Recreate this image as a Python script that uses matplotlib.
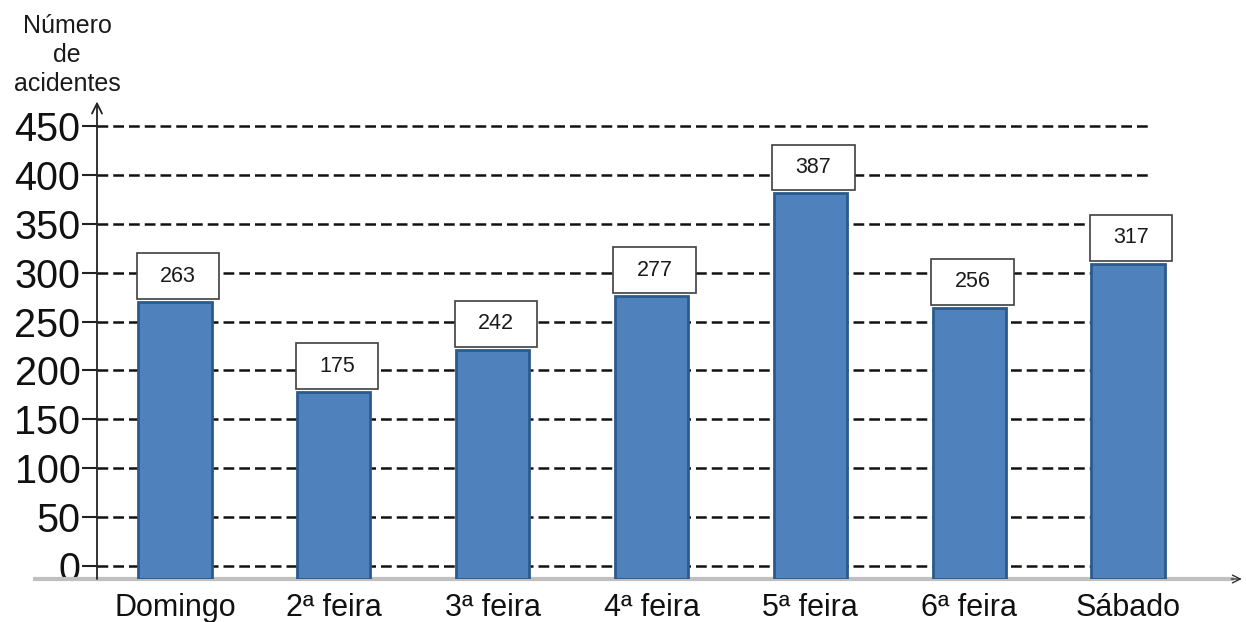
import matplotlib
matplotlib.use("Agg")
import matplotlib.pyplot as plt
from matplotlib.patches import Rectangle

# ---- data ----
categories = ["Domingo", "2ª feira", "3ª feira", "4ª feira", "5ª feira", "6ª feira", "Sábado"]
bar_heights = [270, 178, 221, 276, 381, 264, 309]   # drawn bar heights (as read)
label_values = [263, 175, 242, 277, 387, 256, 317]  # numbers printed in the boxes
y_ticks = [0, 50, 100, 150, 200, 250, 300, 350, 400, 450]

plt.rcParams['font.family'] = ['Liberation Sans', 'DejaVu Sans']

W, H = 1246, 622
fig = plt.figure(figsize=(W / 100, H / 100), dpi=100)
ax = fig.add_axes([97 / W, 43 / H, 1143 / W, 477.5 / H])

ymin, ymax = -13.3, 475
xmin, xmax = -0.491, 6.705
ax.set_xlim(xmin, xmax)
ax.set_ylim(ymin, ymax)

x = list(range(len(categories)))

# dashed horizontal gridlines
ax.hlines(y_ticks, xmin, 6.126, colors='#111111', linestyles=(0, (4.3, 2.0)),
          linewidth=1.8, zorder=1)

# bars
ax.bar(x, [h - ymin for h in bar_heights], bottom=ymin, width=0.46,
       color='#4F81BD', edgecolor='#2C5A8C', linewidth=2, zorder=3)

# label boxes
bw, bh = 0.52, 47
for xi, h, v in zip(x, bar_heights, label_values):
    cx = xi + 0.02
    b0 = h + 3
    ax.add_patch(Rectangle((cx - bw / 2, b0), bw, bh, facecolor='white',
                           edgecolor='#404040', linewidth=1.2, zorder=4))
    ax.text(cx, b0 + bh / 2, str(v), ha='center', va='center', fontsize=15.5,
            color='#1a1a1a', zorder=5)

# spines / axes lines
for s in ax.spines.values():
    s.set_visible(False)

# x axis: gray line with arrow
ax.plot([-64 / 1143, 0.995], [0, 0], transform=ax.transAxes, color='#BFBFBF',
        linewidth=3, clip_on=False, zorder=2, solid_capstyle='butt')
ax.annotate('', xy=(1.004, 0), xytext=(0.99, 0), xycoords='axes fraction',
            arrowprops=dict(arrowstyle='->', color='#333333', lw=1.0, mutation_scale=14),
            annotation_clip=False)
# y axis with arrow
ax.annotate('', xy=(0, 1.0), xytext=(0, 0), xycoords='axes fraction',
            arrowprops=dict(arrowstyle='->', color='#222222', lw=1.3, mutation_scale=18,
                            shrinkA=0, shrinkB=0),
            annotation_clip=False, zorder=6)

ax.set_yticks(y_ticks)
ax.set_yticklabels([str(t) for t in y_ticks], fontsize=28.5, color='#111111')
ax.tick_params(axis='y', length=11, width=1.5, color='#222222', pad=1)
ax.set_xticks(x)
ax.set_xticklabels(categories, fontsize=22, color='#111111')
ax.tick_params(axis='x', length=0, pad=10)

fig.text(67 / W, 1 - 55 / H, "Número\nde\nacidentes", ha='center', va='center',
         fontsize=18, linespacing=1.25, color='#1a1a1a')

fig.savefig("out.png", dpi=100)
